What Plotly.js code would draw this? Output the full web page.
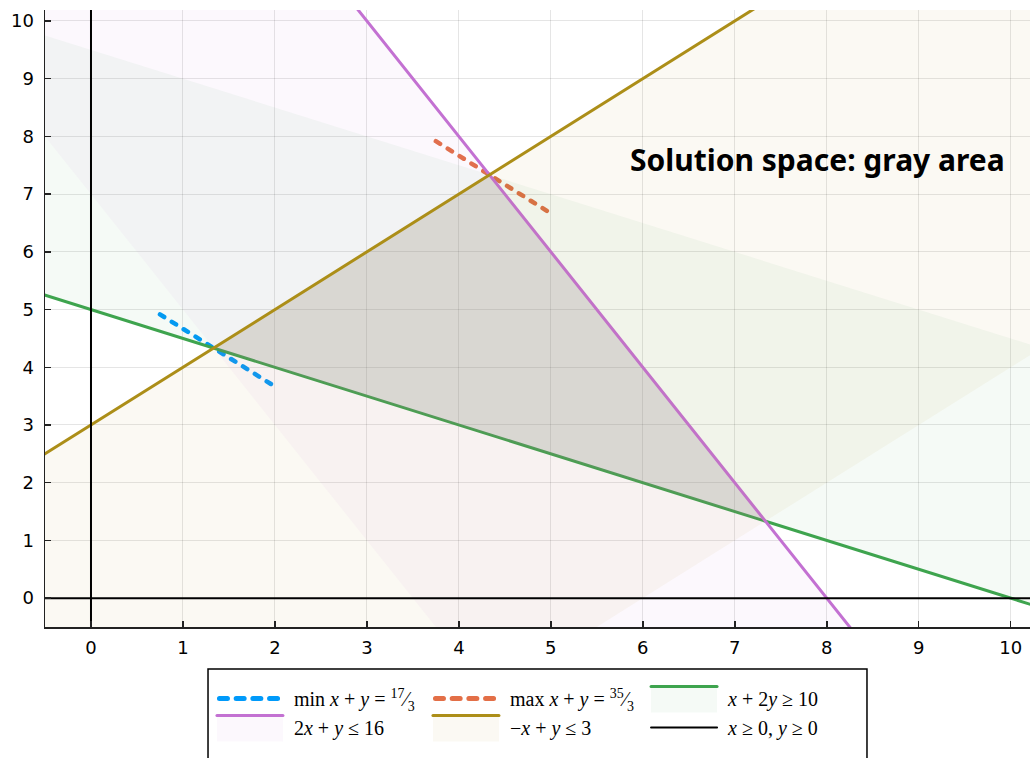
<!DOCTYPE html>
<html>
<head>
<meta charset="utf-8">
<script src="https://cdn.plot.ly/plotly-3.0.1.min.js"></script>
<style>
  html, body { margin: 0; padding: 0; background: #fff; }
  #plot { width: 1030px; height: 758px; }
  path.js-line { stroke-linecap: round; }
</style>
</head>
<body>
<div id="plot"></div>
<script>
// Constraints of the linear program, each written as a*x + b*y (sense) c
const constraintNames = [
  '<i>x</i> + 2<i>y</i> ≥ 10',
  '2<i>x</i> + <i>y</i> ≤ 16',
  '−<i>x</i> + <i>y</i> ≤ 3'
];
const coefX = [1, 2, -1];
const coefY = [2, 1, 1];
const rhs = [10, 16, 3];
const sense = [1, -1, -1];          // +1 means ≥, −1 means ≤
const constraintColors = ['#3ea44e', '#c371d2', '#ac8e18'];
const constraintFills = ['rgba(62,164,78,0.05)', 'rgba(195,113,210,0.05)', 'rgba(172,142,24,0.05)'];
const constraintLegend = ['legend3', 'legend', 'legend2'];
const shadeDepth = 9;               // depth of the tinted strip on the feasible side

// Objective x + y = k, drawn near the optimal corners
const objectiveNames = [
  'min <i>x</i> + <i>y</i> = <sup>17</sup>⁄<sub>3</sub>',
  'max <i>x</i> + <i>y</i> = <sup>35</sup>⁄<sub>3</sub>'
];
const objectiveValues = [17 / 3, 35 / 3];
const objectiveSpanX = [[0.75, 2], [3.75, 5]];
const objectiveColors = ['#009afa', '#e36f47'];
const objectiveLegend = ['legend', 'legend2'];

// Non-negativity
const signName = '<i>x</i> ≥ 0, <i>y</i> ≥ 0';

const xSpan = [-1, 11];
const xTicks = [0, 1, 2, 3, 4, 5, 6, 7, 8, 9, 10];
const yTicks = [0, 1, 2, 3, 4, 5, 6, 7, 8, 9, 10];
const noteText = 'Solution space: gray area';

// y on the line a*x + b*y = c
function lineY(i, c, x) { return (c - coefX[i] * x) / coefY[i]; }

// corner where constraints i and j are both tight
function corner(i, j) {
  const det = coefX[i] * coefY[j] - coefX[j] * coefY[i];
  return [
    (rhs[i] * coefY[j] - rhs[j] * coefY[i]) / det,
    (coefX[i] * rhs[j] - coefX[j] * rhs[i]) / det
  ];
}

const traces = [];

objectiveValues.forEach((k, i) => {
  const xs = objectiveSpanX[i];
  traces.push({
    type: 'scatter', mode: 'lines', name: objectiveNames[i],
    legend: objectiveLegend[i], legendgroup: 'obj' + i,
    x: xs, y: xs.map(x => k - x),
    line: { color: objectiveColors[i], width: 4.5, dash: '5px,9px' },
    hoverinfo: 'skip'
  });
});

function constraintTraces(i) {
  const far = rhs[i] + sense[i] * shadeDepth;
  traces.push({
    type: 'scatter', mode: 'lines', showlegend: false,
    x: xSpan, y: xSpan.map(x => lineY(i, far, x)),
    line: { width: 0, color: constraintColors[i] }, hoverinfo: 'skip'
  });
  traces.push({
    type: 'scatter', mode: 'lines', name: constraintNames[i],
    legend: constraintLegend[i], legendgroup: 'con' + i,
    x: xSpan, y: xSpan.map(x => lineY(i, rhs[i], x)),
    fill: 'tonexty', fillcolor: constraintFills[i],
    line: { color: constraintColors[i], width: 3 }, hoverinfo: 'skip'
  });
}

constraintTraces(0);

// feasible region: triangle bounded by all three constraints
const verts = [corner(0, 2), corner(2, 1), corner(1, 0)];
traces.push({
  type: 'scatter', mode: 'lines', showlegend: false,
  x: verts.map(v => v[0]), y: verts.map(v => v[1]),
  fill: 'toself', fillcolor: 'rgba(128,128,128,0.2)',
  line: { width: 0 }, hoverinfo: 'skip'
});

constraintTraces(1);
constraintTraces(2);

traces.push({
  type: 'scatter', mode: 'lines', name: signName,
  legend: 'legend3', legendgroup: 'sign',
  x: [xSpan[0], xSpan[1], null, 0, 0],
  y: [0, 0, null, xSpan[0], xSpan[1]],
  line: { color: '#000', width: 2 }, hoverinfo: 'skip'
});

const axisCommon = {
  showgrid: true, gridcolor: 'rgba(0,0,0,0.1)', gridwidth: 1,
  zeroline: false, showline: true, linecolor: '#222', linewidth: 1.5,
  ticks: 'inside', ticklen: 6, tickwidth: 1.5, tickcolor: '#222',
  tickfont: { family: 'DejaVu Sans', size: 18, color: '#000' },
  fixedrange: true
};

// three legend columns sharing one framed box
function legendColumn(x) {
  return {
    orientation: 'v', x: x, xanchor: 'left', y: -0.0843, yanchor: 'top',
    itemwidth: 72, tracegroupgap: 0,
    bgcolor: 'rgba(0,0,0,0)', borderwidth: 0,
    font: { family: 'Liberation Serif', size: 20, color: '#000' }
  };
}

const layout = {
  width: 1030, height: 758,
  margin: { l: 45, r: 0, t: 10, b: 131, autoexpand: false },
  paper_bgcolor: '#fff', plot_bgcolor: '#fff',
  xaxis: Object.assign({}, axisCommon, { range: [-0.5, 10.21], tickvals: xTicks, ticklabelstandoff: 4 }),
  yaxis: Object.assign({}, axisCommon, { range: [-0.5, 10.19], tickvals: yTicks, ticklabelstandoff: 6 }),
  showlegend: true,
  legend: legendColumn(0.1695),
  legend2: legendColumn(0.3888),
  legend3: legendColumn(0.6102),
  shapes: [{
    type: 'rect', xref: 'paper', yref: 'paper',
    x0: 0.1655, x1: 0.8345, y0: -0.068, y1: -0.26,
    line: { color: '#000', width: 1.5 }, fillcolor: 'rgba(0,0,0,0)', layer: 'above'
  }],
  annotations: [{
    x: 7.9, y: 7.6, xref: 'x', yref: 'y', showarrow: false,
    text: '<b>' + noteText + '</b>',
    font: { family: 'Noto Sans', size: 30, color: '#000' },
    xanchor: 'center', yanchor: 'middle'
  }]
};

const keyLength = 66;

Plotly.newPlot('plot', traces, layout, { displayModeBar: false, staticPlot: true }).then(gd => {
  // legend keys: fixed length; shaded constraints get the line on top of a tall tinted patch
  gd.querySelectorAll('g.traces').forEach(item => {
    const fillPath = item.querySelector('.legendfill path');
    const linePath = item.querySelector('.legendlines path');
    if (!linePath) return;
    const shaded = fillPath && fillPath.getAttribute('d');
    const dashed = linePath.style.strokeDasharray && linePath.style.strokeDasharray !== 'none';
    const top = shaded ? -12 : 0;
    if (dashed) {
      // four bold dashes in the key
      linePath.setAttribute('d', 'M7.5,0h' + (keyLength - 5));
      linePath.style.strokeDasharray = '8px,8.7px';
      linePath.style.strokeWidth = '5px';
    } else {
      linePath.setAttribute('d', 'M5,' + top + 'h' + keyLength);
    }
    if (shaded) {
      fillPath.setAttribute('d', 'M5,' + top + 'h' + keyLength + 'v26h-' + keyLength + 'z');
    }
  });
});
</script>
</body>
</html>
